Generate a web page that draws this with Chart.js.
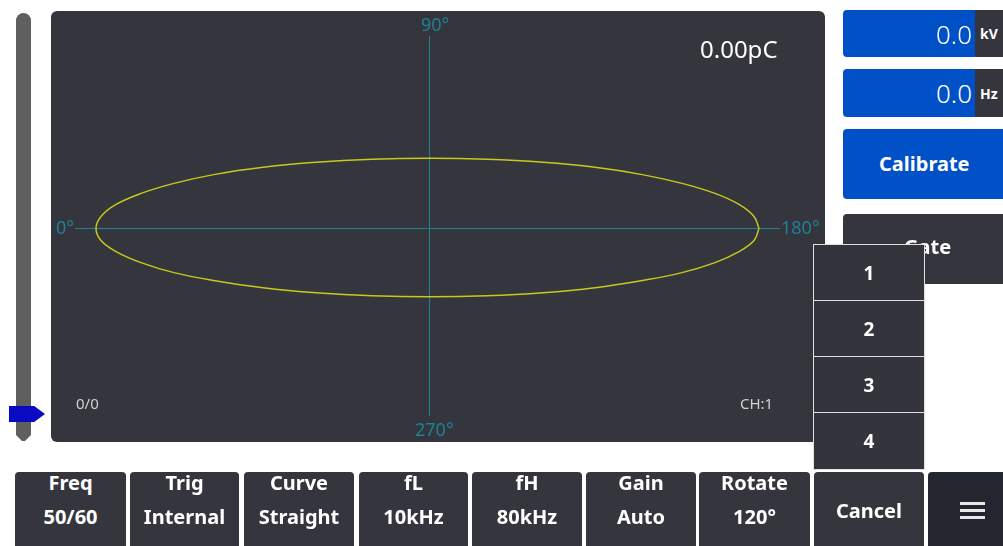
<!DOCTYPE html>
<html>
<head>
<meta charset="utf-8">
<script src="https://cdn.jsdelivr.net/npm/chart.js@4/dist/chart.umd.min.js"></script>
<style>
  html, body { margin: 0; padding: 0; background: #fff; width: 1003px; height: 546px; overflow: hidden; font-family: "Noto Sans", "Open Sans", sans-serif; }
  .abs { position: absolute; box-sizing: border-box; }
  #panel { left: 51px; top: 11px; width: 774px; height: 431px; background: #35353d; border-radius: 6px; }
  #chartBox { left: 51px; top: 11px; width: 774px; height: 431px; }
  .axl { color: #1f8194; font-size: 18px; line-height: 1; }
  .small { color: #d0d0d0; font-size: 15px; line-height: 1; }
  #slider { left: 16px; top: 13px; width: 15px; height: 428px; background: #5f5f5f; border-radius: 8px 8px 0 0; clip-path: polygon(0 0, 100% 0, 100% 98.6%, 60% 100%, 40% 100%, 0 98.6%); }
  #arrow { left: 9px; top: 406px; width: 36px; height: 16px; background: #0a0ac2; clip-path: polygon(0 0, 70% 0, 100% 50%, 70% 100%, 0 100%); }
  .blue { background: #0050c8; color: #fff; border-radius: 4px; }
  .dark { background: #35353d; color: #fff; }
  .val { right: 31px; top: 11px; font-size: 26px; font-weight: 300; line-height: 1; }
  .unit { right: 0; top: 0; width: 28px; height: 100%; background: #35353d; font-size: 14px; font-weight: 700; display: flex; align-items: center; padding-left: 5px; }
  .btn { top: 472px; height: 80px; background: #35353d; color: #fff; border-radius: 4px 4px 0 0; font-weight: 700; font-size: 20px; text-align: center; line-height: 34px; }
  .btn .in { margin-top: -6px; }
  .dd { left: 813px; width: 112px; height: 57px; background: #34343c; color: #fff; border: 1px solid #e0e0e0; font-weight: 700; font-size: 19px; display: flex; align-items: center; justify-content: center; }
  .bar { left: 32px; width: 25px; height: 3px; background: #e8e8e8; }
</style>
</head>
<body>
<div id="slider" class="abs"></div>
<div id="arrow" class="abs"></div>
<div id="panel" class="abs"></div>
<div id="chartBox" class="abs"><canvas id="myChart" width="774" height="431"></canvas></div>

<div class="abs axl" style="left:421px; top:15px;">90°</div>
<div class="abs axl" style="left:415px; top:420px;">270°</div>
<div class="abs axl" style="left:56px; top:218px;">0°</div>
<div class="abs axl" style="left:781px; top:218px;">180°</div>
<div class="abs" style="left:700px; top:32px; color:#fff; font-size:24px;">0.00pC</div>
<div class="abs small" style="left:76px; top:396px;">0/0</div>
<div class="abs small" style="left:740px; top:396px;">CH:1</div>

<div class="abs blue" style="left:843px; top:10px; width:160px; height:47px; overflow:hidden; border-radius:4px 0 0 4px;">
  <div class="abs val">0.0</div><div class="abs unit">kV</div>
</div>
<div class="abs blue" style="left:843px; top:69px; width:160px; height:48px; overflow:hidden; border-radius:4px 0 0 4px;">
  <div class="abs val">0.0</div><div class="abs unit">Hz</div>
</div>
<div class="abs blue" style="left:843px; top:129px; width:164px; height:70px; font-weight:700; font-size:20px; line-height:70px; padding-left:36px;">Calibrate</div>
<div class="abs dark" style="left:843px; top:214px; width:164px; height:70px; border-radius:4px; font-weight:700; font-size:20px; line-height:66px; padding-left:61px;">Gate</div>

<div class="abs dd" style="top:244px;">1</div>
<div class="abs dd" style="top:300px;">2</div>
<div class="abs dd" style="top:356px;">3</div>
<div class="abs dd" style="top:412px; height:58px;">4</div>

<div class="abs btn" style="left:15px; width:111px;"><div class="in">Freq<br>50/60</div></div>
<div class="abs btn" style="left:130px; width:109px;"><div class="in">Trig<br>Internal</div></div>
<div class="abs btn" style="left:244px; width:110px;"><div class="in">Curve<br>Straight</div></div>
<div class="abs btn" style="left:359px; width:109px;"><div class="in">fL<br>10kHz</div></div>
<div class="abs btn" style="left:472px; width:110px;"><div class="in">fH<br>80kHz</div></div>
<div class="abs btn" style="left:586px; width:110px;"><div class="in">Gain<br>Auto</div></div>
<div class="abs btn" style="left:699px; width:111px;"><div class="in">Rotate<br>120°</div></div>
<div class="abs btn" style="left:814px; width:110px; line-height:78px;">Cancel</div>
<div class="abs btn" style="left:928px; width:80px; background:#23262e;">
  <div class="abs bar" style="top:30px;"></div>
  <div class="abs bar" style="top:37px;"></div>
  <div class="abs bar" style="top:44px;"></div>
</div>

<script>
// phase ellipse, every 10 degrees (display units)
var phaseX = [329, 324, 309, 285, 252, 211, 165, 113, 57, 0,
              -58, -114, -167, -215, -256, -289, -314, -329, -334,
              -329, -314, -289, -256, -215, -167, -114, -58, 0,
              57, 113, 165, 211, 252, 285, 309, 324, 329];
var phaseY = [0, 12, 24, 35, 45, 54, 61, 66, 69, 70,
              69, 66, 61, 54, 45, 35, 24, 12, 0,
              -12, -23, -34, -44, -52, -59, -64, -67, -68,
              -67, -64, -59, -52, -44, -34, -23, -12, 0];
var axisTicks = [0];

var points = phaseX.map(function (x, i) { return {x: x, y: phaseY[i]}; });

var teal = '#1f8396';

var ctx = document.getElementById('myChart').getContext('2d');
var myChart = new Chart(ctx, {
    type: 'scatter',
    data: {
        datasets: [{
            data: points,
            showLine: true,
            borderColor: '#c9c81c',
            borderWidth: 1.5,
            pointRadius: 0,
            tension: 0.4,
            fill: false
        }]
    },
    options: {
        responsive: false,
        animation: false,
        events: [],
        layout: { padding: { left: 24, right: 45, top: 25, bottom: 26 } },
        plugins: { legend: { display: false }, tooltip: { enabled: false } },
        scales: {
            x: {
                min: -355, max: 350,
                afterBuildTicks: function (axis) { axis.ticks = axisTicks.map(function (v) { return {value: v}; }); },
                ticks: { display: false },
                border: { display: false },
                grid: { color: teal, lineWidth: 1, drawTicks: false, tickLength: 0 }
            },
            y: {
                min: -187, max: 192,
                afterBuildTicks: function (axis) { axis.ticks = axisTicks.map(function (v) { return {value: v}; }); },
                ticks: { display: false },
                border: { display: false },
                grid: { color: teal, lineWidth: 1, drawTicks: false, tickLength: 0 }
            }
        }
    }
});
</script>
</body>
</html>
